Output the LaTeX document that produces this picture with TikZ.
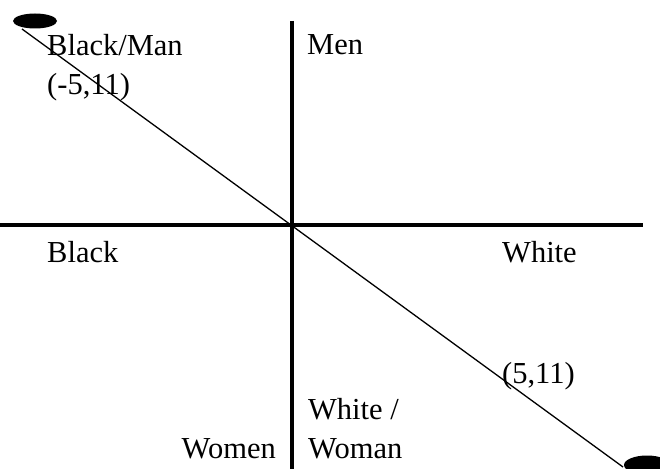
\documentclass[tikz,border=0pt]{standalone}
\usepackage{fontspec}
\setmainfont{Liberation Serif}
\usetikzlibrary{shapes.geometric}
\tikzset{
  lbl/.style={anchor=base west, inner sep=0pt, align=left, font=\fontsize{30.5}{39}\selectfont},
  axis/.style={line width=3.8pt},
  diag/.style={line width=1.3pt},
  blob/.style={ellipse, fill=black, inner sep=0pt},
}
\begin{document}
\begin{tikzpicture}[x=1pt,y=-1pt]
\useasboundingbox[fill=white] (0,0) rectangle (660,468);
% axes
\coordinate (vt) at (292,21);
\coordinate (vb) at (292,470);
\coordinate (hl) at (-2,225);
\coordinate (hr) at (643,225);
\draw[axis] (vt) -- (vb);
\draw[axis] (hl) -- (hr);
% end blobs
\node[blob, minimum width=44pt, minimum height=15pt] (tl) at (35,21) {};
\node[blob, minimum width=46pt, minimum height=19pt] (br) at (647,465) {};
\coordinate (ds) at (22,29);
\coordinate (de) at (623,467);
\draw[diag] (ds) -- (de);
% labels
\node[lbl] (bm) at (47,95) {Black/Man\\(-5,11)};
\node[lbl] (men) at (307,55) {Men};
\node[lbl] (black) at (47,262) {Black};
\node[lbl] (white) at (502,262) {White};
\node[lbl] (pt) at (502,383) {(5,11)};
\node[lbl] (ww) at (308,458) {White /\\Woman};
\node[lbl, anchor=base east] (women) at (276,458) {Women};
\end{tikzpicture}
\end{document}
